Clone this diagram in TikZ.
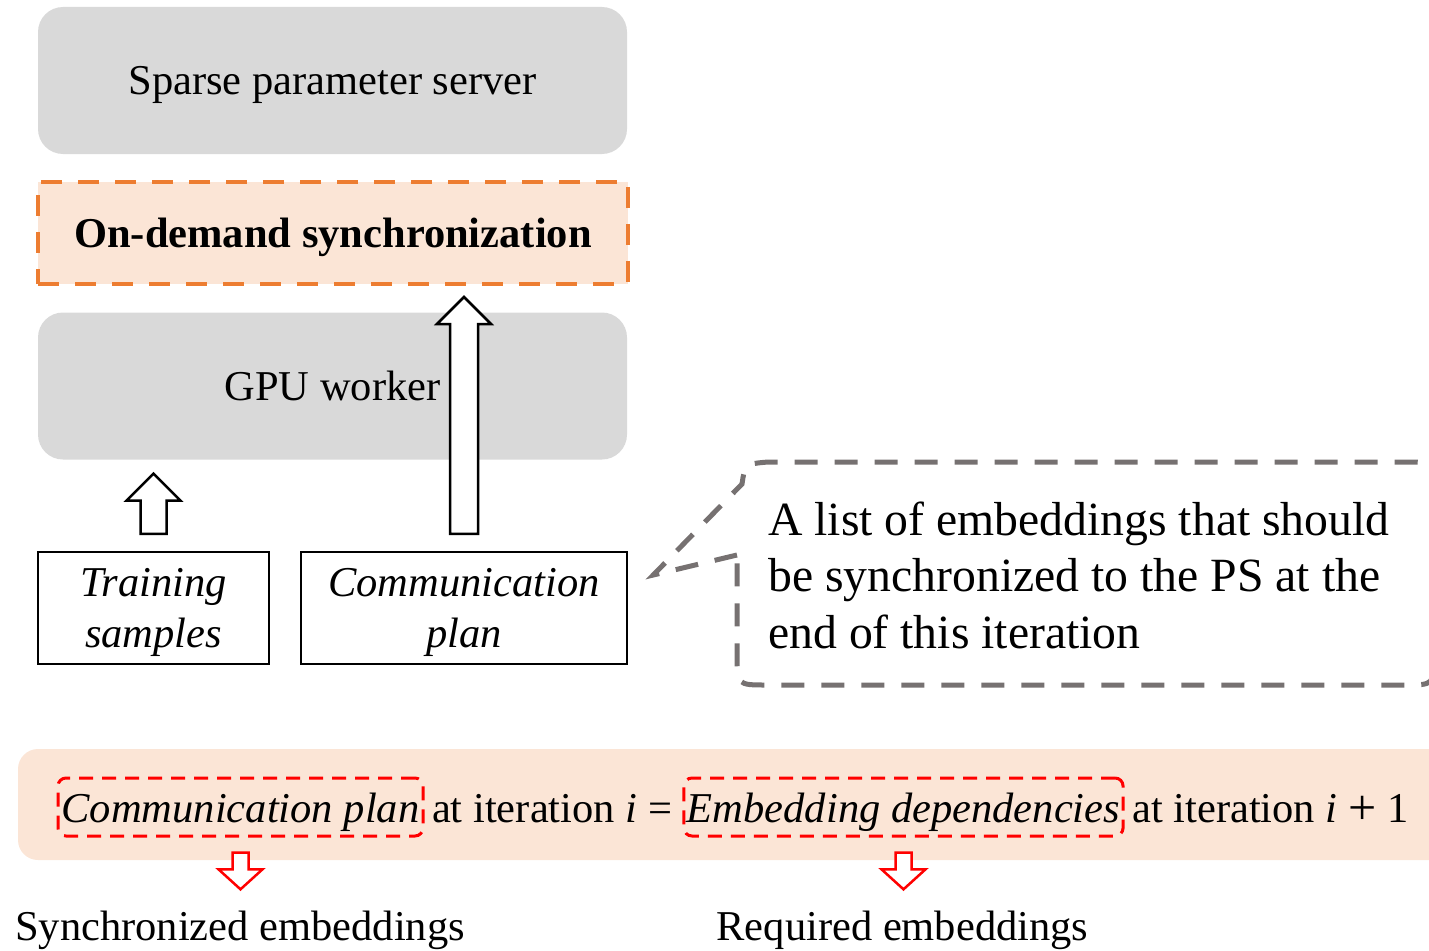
\documentclass[tikz,border=0pt]{standalone}
\usepackage{fontspec}
\setmainfont{Liberation Serif}
\usetikzlibrary{calc,positioning}
\definecolor{psgray}{RGB}{217,217,217}
\definecolor{syncorange}{RGB}{237,125,49}
\definecolor{syncpeach}{RGB}{251,229,214}
\definecolor{notegray}{RGB}{118,113,113}
% hollow block arrow: from, to, half shaft, half head, head length, style
\newcommand{\hollowarrow}[6]{%
  \draw[#6] let \p1=(#1), \p2=(#2), \n1={sign(\y2-\y1)}, \n2={\y2-\n1*#5} in
    ({\x1-#3},\y1) -- ({\x1+#3},\y1) -- ({\x1+#3},{\n2*1pt}) -- ({\x1+#4},{\n2*1pt})
    -- (\x1,\y2) -- ({\x1-#4},{\n2*1pt}) -- ({\x1-#3},{\n2*1pt}) -- cycle;}

\begin{document}
\begin{tikzpicture}[x=1pt,y=-1pt,font=\fontsize{42.5}{51}\selectfont,
  graybox/.style={fill=psgray,rounded corners=25pt,minimum width=589pt,minimum height=147pt,text depth=0pt},
  inbox/.style={draw,line width=2.5pt,align=center,minimum height=112pt,text depth=0pt,font=\fontsize{42.5}{51}\selectfont\itshape},
  hlbox/.style={draw=red,line width=3pt,dash pattern=on 14pt off 9pt,rounded corners=8pt,anchor=base,
    inner xsep=3pt,inner ysep=8pt,text height=36pt,text depth=6pt,font=\fontsize{42.5}{51}\selectfont\itshape}]
  \useasboundingbox (0,0) rectangle (1429,950);
  \fill[syncpeach,rounded corners=20pt] (18,749) rectangle (1470,860);

  \node[graybox] (ps) at (332.5,80.5) {Sparse parameter server};
  \node[fill=syncpeach,draw=syncorange,line width=4pt,dash pattern=on 21pt off 16pt,minimum width=590pt,minimum height=102pt,
    text depth=0pt,font=\fontsize{42.5}{51}\selectfont\bfseries] (sync) at (333,233) {On-demand synchronization};
  \node[graybox] (gpu) at (332.5,386) {GPU worker};
  \node[inbox,minimum width=231pt] (train) at (153.5,608) {Training\\samples};
  \node[inbox,minimum width=326pt] (comm) at (464,608) {Communication\\plan};

  \hollowarrow{$(train.north)+(0,-17)$}{$(gpu.south-|train.north)+(0,14)$}{13pt}{27pt}{27pt}{line width=2.5pt,fill=white}
  \hollowarrow{$(comm.north)+(0,-17)$}{$(sync.south-|comm.north)+(0,11)$}{14pt}{27pt}{27pt}{line width=2.5pt,fill=white}

  \node[anchor=west,align=left,inner sep=0pt,font=\fontsize{47.7}{56.5}\selectfont] (note) at (768,575)
    {A list of embeddings that should\\be synchronized to the PS at the\\end of this iteration};
  \coordinate (tip) at ($(comm.east)+(25,-33)$);
  \draw[notegray,line width=5pt,dash pattern=on 23pt off 17pt] (737,555) -- (tip) -- (742,484)
    .. controls (745,464) .. (768,462) -- (1404,462) .. controls (1434,462) .. (1434,492) -- (1434,655)
    .. controls (1434,685) .. (1404,685) -- (767,685) .. controls (737,685) .. (737,655) -- cycle;

  \node[hlbox,minimum width=365pt] (cplan) at (240.5,822) {Communication plan};
  \node[anchor=base] (iter1) at (552,822) {at iteration \textit{i} =};
  \node[hlbox,minimum width=437pt] (edep) at (903.5,822) {Embedding dependencies};
  \node[anchor=base west,inner sep=0pt] (iter2) at (1132,822) {at iteration \textit{i} {\fontsize{50}{51}\selectfont\raisebox{-2pt}{+}} 1};

  \node[anchor=base,inner sep=0pt] (synced) at (240,940) {Synchronized embeddings};
  \node[anchor=base,inner sep=0pt] (needed) at (902.5,940) {Required embeddings};
  \hollowarrow{$(cplan.south)+(0,15)$}{$(synced.north)+(0,-21)$}{8pt}{22pt}{20pt}{red,line width=2.5pt,fill=white}
  \hollowarrow{$(edep.south)+(0,15)$}{$(needed.north)+(0,-21)$}{8pt}{22pt}{20pt}{red,line width=2.5pt,fill=white}
\end{tikzpicture}
\end{document}
